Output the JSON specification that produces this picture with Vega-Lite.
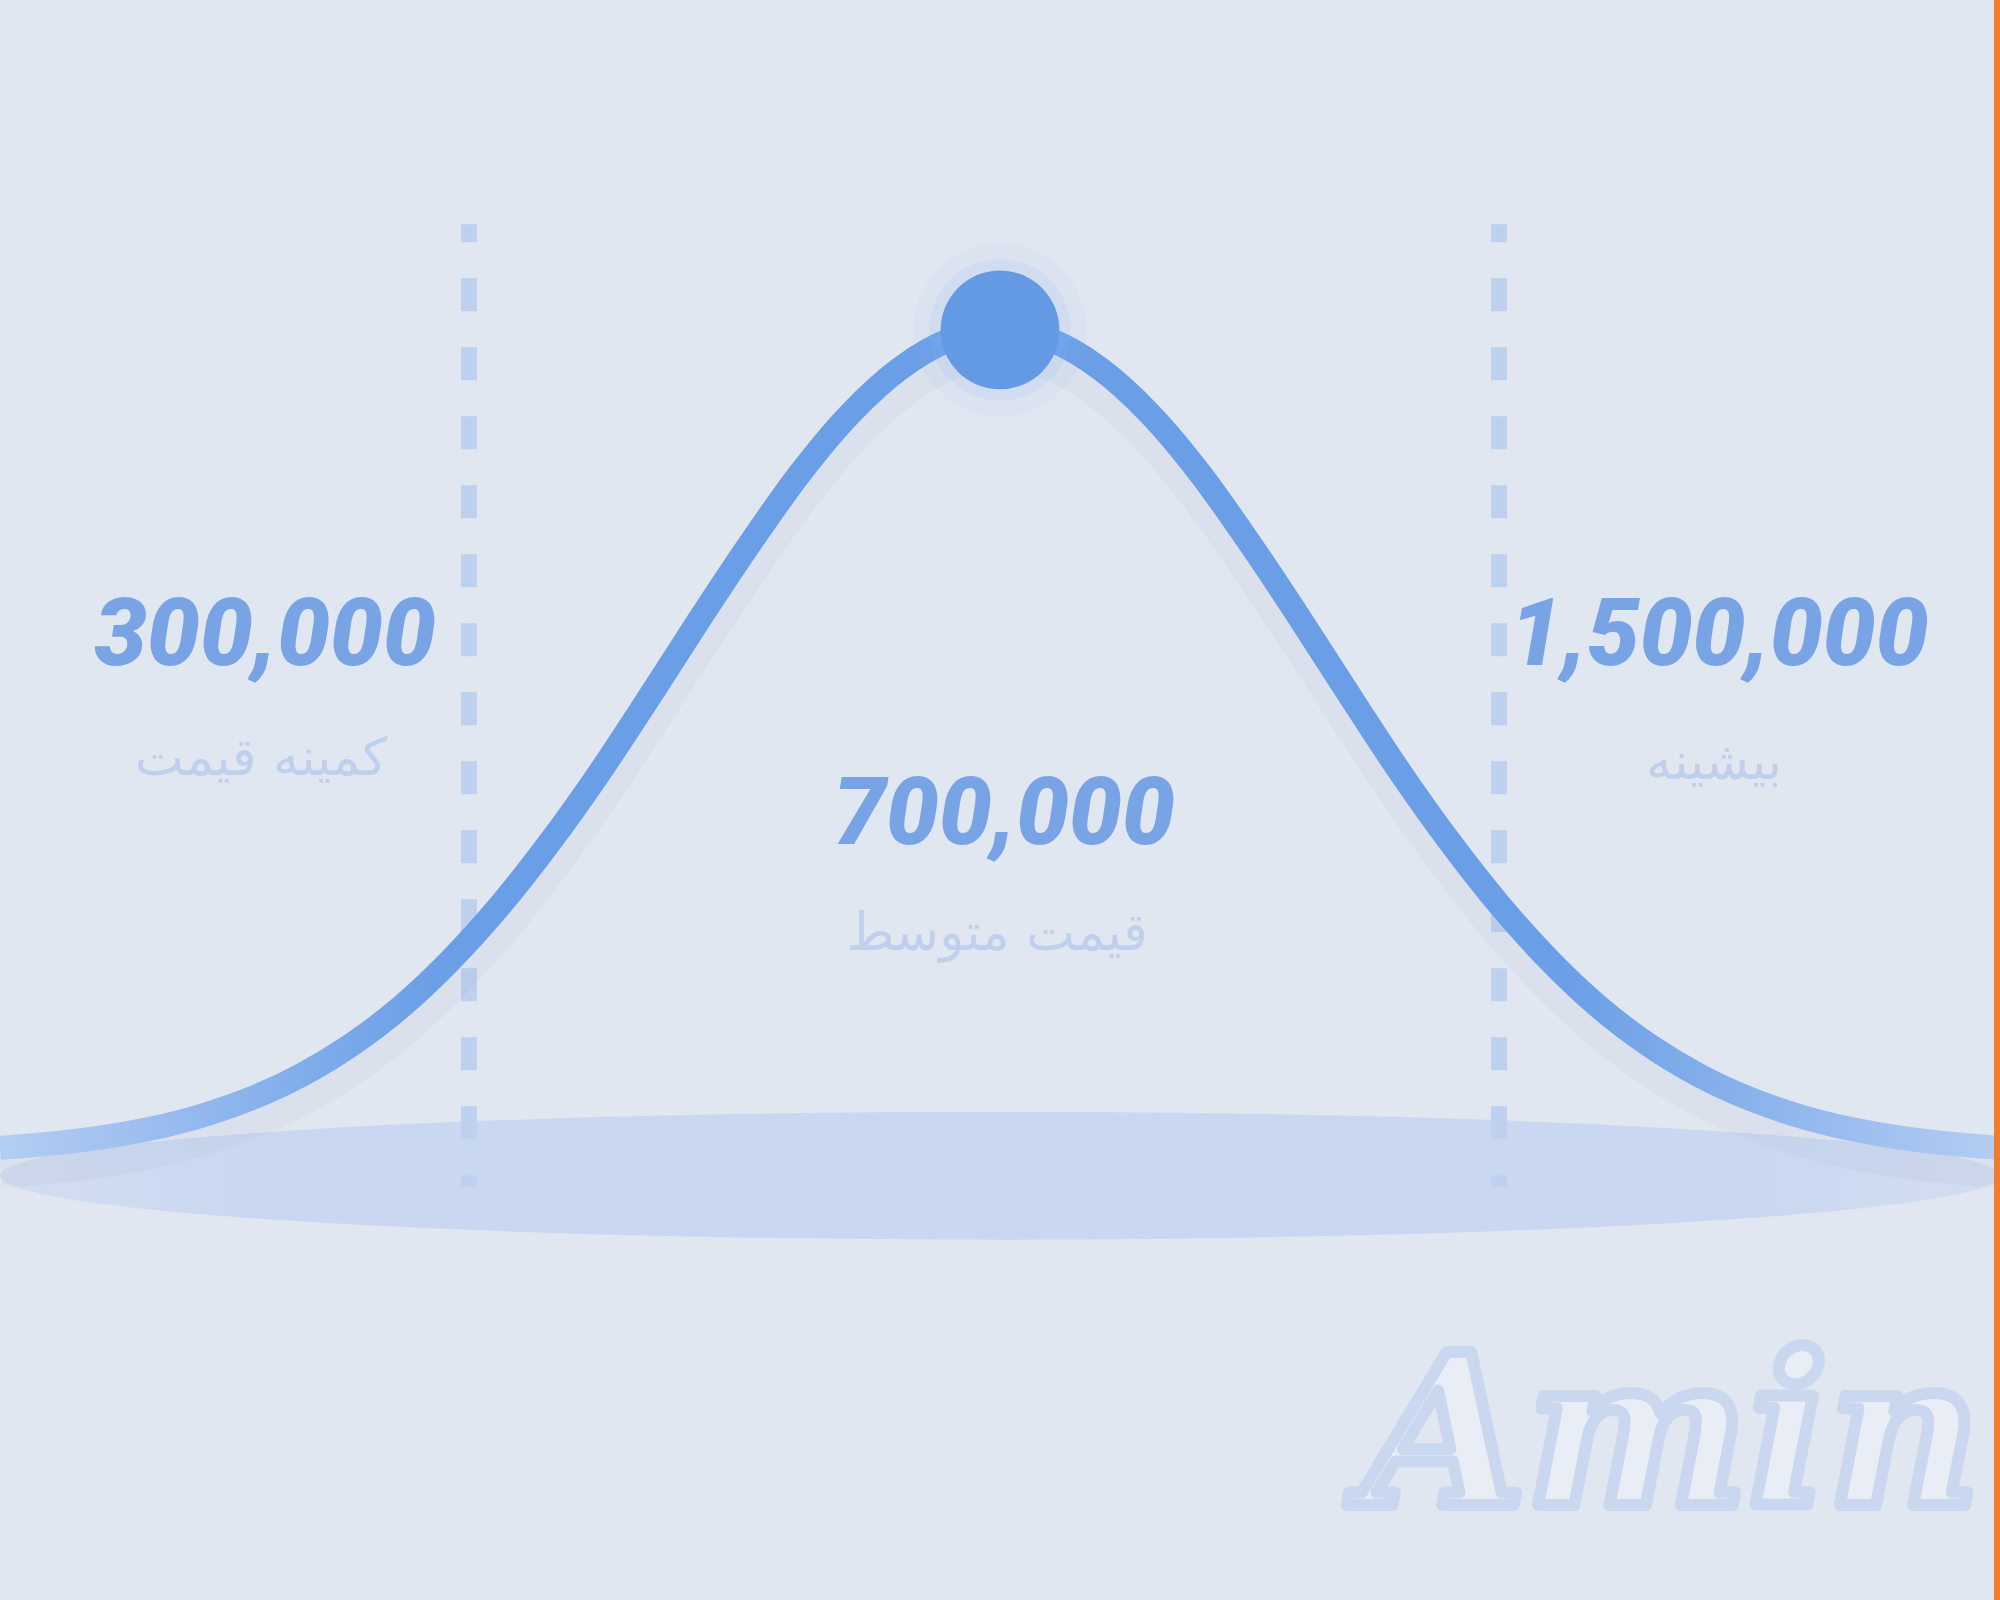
{
  "$schema": "https://vega.github.io/schema/vega-lite/v6.json",
  "width": 2000,
  "height": 1600,
  "autosize": {"type": "none"},
  "padding": 0,
  "background": "#E1E7F1",
  "config": {"view": {"stroke": null}},
  "datasets": {
    "curve": [
      {"x": 0, "d": 0.0083}, {"x": 2.5, "d": 0.0132}, {"x": 5, "d": 0.0206}, {"x": 7.5, "d": 0.0313},
      {"x": 10, "d": 0.0466}, {"x": 12.5, "d": 0.0675}, {"x": 15, "d": 0.0955}, {"x": 17.5, "d": 0.132},
      {"x": 20, "d": 0.178}, {"x": 22.5, "d": 0.235}, {"x": 25, "d": 0.302}, {"x": 27.5, "d": 0.379},
      {"x": 30, "d": 0.464}, {"x": 32.5, "d": 0.556}, {"x": 35, "d": 0.65}, {"x": 37.5, "d": 0.741},
      {"x": 40, "d": 0.826}, {"x": 42.5, "d": 0.898}, {"x": 45, "d": 0.953}, {"x": 47.5, "d": 0.988},
      {"x": 50, "d": 1.0},
      {"x": 52.5, "d": 0.988}, {"x": 55, "d": 0.953}, {"x": 57.5, "d": 0.898}, {"x": 60, "d": 0.826},
      {"x": 62.5, "d": 0.741}, {"x": 65, "d": 0.65}, {"x": 67.5, "d": 0.556}, {"x": 70, "d": 0.464},
      {"x": 72.5, "d": 0.379}, {"x": 75, "d": 0.302}, {"x": 77.5, "d": 0.235}, {"x": 80, "d": 0.178},
      {"x": 82.5, "d": 0.132}, {"x": 85, "d": 0.0955}, {"x": 87.5, "d": 0.0675}, {"x": 90, "d": 0.0466},
      {"x": 92.5, "d": 0.0313}, {"x": 95, "d": 0.0206}, {"x": 97.5, "d": 0.0132}, {"x": 100, "d": 0.0083}
    ],
    "bounds": [
      {"x": 23.45, "top": 1.128, "bottom": -0.039},
      {"x": 74.95, "top": 1.128, "bottom": -0.039}
    ],
    "peak": [{"x": 50, "d": 1.0}],
    "base": [{"x": 50, "d": -0.0255}],
    "numbers": [
      {"x": 13.25, "d": 0.628, "label": "300,000"},
      {"x": 85.95, "d": 0.628, "label": "1,500,000"},
      {"x": 50.2, "d": 0.41, "label": "700,000"}
    ],
    "subs": [
      {"x": 13.05, "d": 0.48, "label": "کمینه قیمت"},
      {"x": 85.7, "d": 0.475, "label": "بیشینه"},
      {"x": 49.85, "d": 0.268, "label": "قیمت متوسط"}
    ],
    "mark": [{"x": 83.6, "d": -0.348, "label": "Amin"}],
    "edge": [{"x": 99.85}]
  },
  "layer": [
    {
      "data": {"name": "base"},
      "mark": {
        "type": "point",
        "filled": true,
        "shape": "M -1 0 A 1 0.064 0 1 0 1 0 A 1 0.064 0 1 0 -1 0 Z",
        "size": 4000000,
        "opacity": 1,
        "color": {"gradient": "linear", "x1": 0, "x2": 1, "y1": 0, "y2": 0,
          "stops": [
            {"offset": 0, "color": "#D3DDF0"},
            {"offset": 0.12, "color": "#C9D8F0"},
            {"offset": 0.88, "color": "#C9D8F0"},
            {"offset": 1, "color": "#D3DDF0"}
          ]}
      },
      "encoding": {
        "x": {"field": "x", "type": "quantitative", "scale": {"domain": [0, 100], "nice": false, "zero": false}, "axis": null},
        "y": {"field": "d", "type": "quantitative", "scale": {"domain": [-0.54, 1.4], "nice": false, "zero": false}, "axis": null}
      }
    },
    {
      "data": {"name": "bounds"},
      "mark": {"type": "rule", "color": "#BDD0EE", "strokeWidth": 16, "strokeDash": [33, 36], "strokeDashOffset": 15, "strokeCap": "butt"},
      "encoding": {
        "x": {"field": "x", "type": "quantitative", "scale": {"domain": [0, 100], "nice": false, "zero": false}, "axis": null},
        "y": {"field": "top", "type": "quantitative", "scale": {"domain": [-0.54, 1.4], "nice": false, "zero": false}, "axis": null},
        "y2": {"field": "bottom"}
      }
    },
    {
      "data": {"name": "curve"},
      "mark": {"type": "line", "interpolate": "monotone", "color": "#8E9BB3", "opacity": 0.08, "strokeWidth": 44, "yOffset": 18, "strokeCap": "butt"},
      "encoding": {
        "x": {"field": "x", "type": "quantitative", "scale": {"domain": [0, 100], "nice": false, "zero": false}, "axis": null},
        "y": {"field": "d", "type": "quantitative", "scale": {"domain": [-0.54, 1.4], "nice": false, "zero": false}, "axis": null}
      }
    },
    {
      "data": {"name": "curve"},
      "mark": {
        "type": "line", "interpolate": "monotone", "strokeWidth": 24, "strokeCap": "butt",
        "color": {"gradient": "linear", "x1": 0, "x2": 1, "y1": 0, "y2": 0,
          "stops": [
            {"offset": 0, "color": "#B5CDF2"},
            {"offset": 0.1, "color": "#92B8EE"},
            {"offset": 0.22, "color": "#6A9EE6"},
            {"offset": 0.78, "color": "#6A9EE6"},
            {"offset": 0.9, "color": "#92B8EE"},
            {"offset": 1, "color": "#B5CDF2"}
          ]}
      },
      "encoding": {
        "x": {"field": "x", "type": "quantitative", "scale": {"domain": [0, 100], "nice": false, "zero": false}, "axis": null},
        "y": {"field": "d", "type": "quantitative", "scale": {"domain": [-0.54, 1.4], "nice": false, "zero": false}, "axis": null}
      }
    },
    {
      "data": {"name": "peak"},
      "mark": {"type": "circle", "size": 30000, "color": "#9CC0F3", "opacity": 0.08},
      "encoding": {
        "x": {"field": "x", "type": "quantitative", "scale": {"domain": [0, 100], "nice": false, "zero": false}, "axis": null},
        "y": {"field": "d", "type": "quantitative", "scale": {"domain": [-0.54, 1.4], "nice": false, "zero": false}, "axis": null}
      }
    },
    {
      "data": {"name": "peak"},
      "mark": {"type": "circle", "size": 20000, "color": "#8DB6F0", "opacity": 0.14},
      "encoding": {
        "x": {"field": "x", "type": "quantitative", "scale": {"domain": [0, 100], "nice": false, "zero": false}, "axis": null},
        "y": {"field": "d", "type": "quantitative", "scale": {"domain": [-0.54, 1.4], "nice": false, "zero": false}, "axis": null}
      }
    },
    {
      "data": {"name": "peak"},
      "mark": {"type": "circle", "size": 14100, "color": "#6499E3", "opacity": 1},
      "encoding": {
        "x": {"field": "x", "type": "quantitative", "scale": {"domain": [0, 100], "nice": false, "zero": false}, "axis": null},
        "y": {"field": "d", "type": "quantitative", "scale": {"domain": [-0.54, 1.4], "nice": false, "zero": false}, "axis": null}
      }
    },
    {
      "data": {"name": "numbers"},
      "mark": {"type": "text", "font": "Roboto", "fontWeight": 900, "fontStyle": "italic", "fontSize": 94, "color": "#78A4E6", "align": "center", "baseline": "middle"},
      "encoding": {
        "x": {"field": "x", "type": "quantitative", "scale": {"domain": [0, 100], "nice": false, "zero": false}, "axis": null},
        "y": {"field": "d", "type": "quantitative", "scale": {"domain": [-0.54, 1.4], "nice": false, "zero": false}, "axis": null},
        "text": {"field": "label", "type": "nominal"}
      }
    },
    {
      "data": {"name": "subs"},
      "mark": {"type": "text", "font": "DejaVu Sans", "fontWeight": "normal", "fontSize": 52, "color": "#BFD0EC", "align": "center", "baseline": "middle"},
      "encoding": {
        "x": {"field": "x", "type": "quantitative", "scale": {"domain": [0, 100], "nice": false, "zero": false}, "axis": null},
        "y": {"field": "d", "type": "quantitative", "scale": {"domain": [-0.54, 1.4], "nice": false, "zero": false}, "axis": null},
        "text": {"field": "label", "type": "nominal"}
      }
    },
    {
      "data": {"name": "mark"},
      "mark": {"type": "text", "font": "DejaVu Serif", "fontWeight": "bold", "fontStyle": "italic", "fontSize": 210, "fill": "#E9EEF6", "stroke": "#C9D8EE", "strokeWidth": 12, "strokeJoin": "round", "align": "center", "baseline": "middle"},
      "encoding": {
        "x": {"field": "x", "type": "quantitative", "scale": {"domain": [0, 100], "nice": false, "zero": false}, "axis": null},
        "y": {"field": "d", "type": "quantitative", "scale": {"domain": [-0.54, 1.4], "nice": false, "zero": false}, "axis": null},
        "text": {"field": "label", "type": "nominal"}
      }
    },
    {
      "data": {"name": "edge"},
      "mark": {"type": "rule", "color": "#F47A2C", "strokeWidth": 6},
      "encoding": {
        "x": {"field": "x", "type": "quantitative", "scale": {"domain": [0, 100], "nice": false, "zero": false}, "axis": null}
      }
    }
  ]
}
